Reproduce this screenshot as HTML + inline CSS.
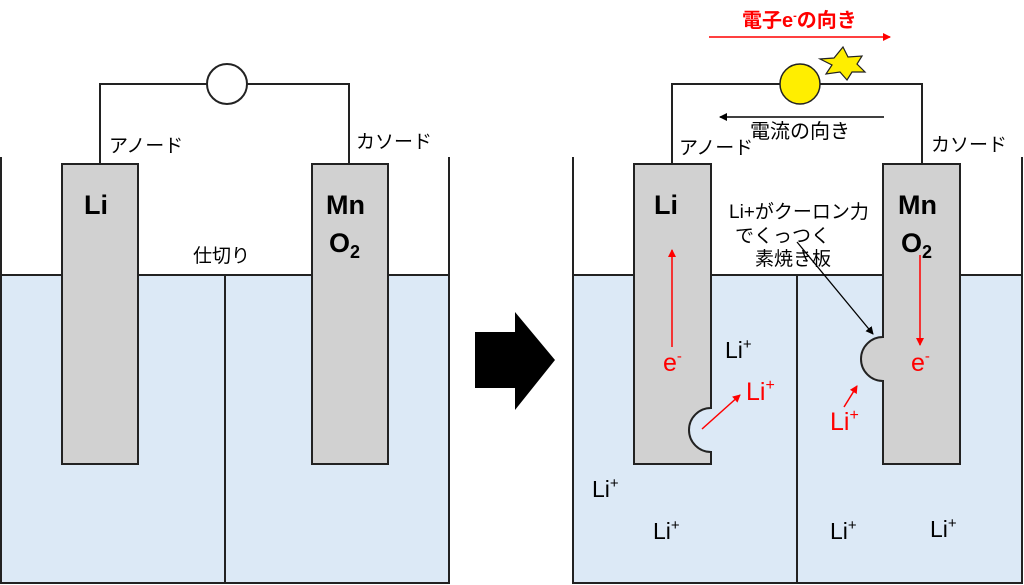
<!DOCTYPE html>
<html><head><meta charset="utf-8"><style>
html,body{margin:0;padding:0;background:#fff;}
svg{display:block;}
text{font-family:"Liberation Sans","Noto Sans CJK JP",sans-serif;}
</style></head><body>
<svg width="1024" height="585" viewBox="0 0 1024 585" xmlns="http://www.w3.org/2000/svg">
<defs>
<marker id="ar" markerWidth="8" markerHeight="8" refX="7" refY="4" orient="auto" markerUnits="userSpaceOnUse"><path d="M0,0 L8,4 L0,8 z" fill="red"/></marker>
<marker id="ab" markerWidth="8" markerHeight="8" refX="7" refY="4" orient="auto" markerUnits="userSpaceOnUse"><path d="M0,0 L8,4 L0,8 z" fill="#000"/></marker>
</defs>
<g stroke="#222" stroke-width="2">
<rect x="1" y="275" width="448" height="308" fill="#dce9f6"/>
<line x1="1" y1="157" x2="1" y2="583"/>
<line x1="449" y1="157" x2="449" y2="583"/>
<line x1="225" y1="275" x2="225" y2="583"/>
<polyline points="100,164 100,84 349,84 349,164" fill="none"/>
<circle cx="227" cy="84" r="20" fill="#fff"/>
<rect x="62" y="164" width="76" height="300" fill="#d1d1d1"/>
<rect x="312" y="164" width="76" height="300" fill="#d1d1d1"/>
<rect x="573" y="275" width="449" height="308" fill="#dce9f6"/>
<line x1="573" y1="157" x2="573" y2="583"/>
<line x1="1022" y1="157" x2="1022" y2="583"/>
<line x1="797" y1="275" x2="797" y2="583"/>
<polyline points="672,164 672,84 922,84 922,164" fill="none"/>
<path d="M634,164 H711 V408 A22,22 0 0 0 711,452 V464 H634 Z" fill="#d1d1d1"/>
<path d="M883,164 H960 V464 H883 V381 A22,22 0 0 1 883,337 Z" fill="#d1d1d1"/>
<circle cx="800" cy="84" r="20" fill="#ffee00" stroke-width="1.5"/>
</g>
<polygon points="843,47 848,57 862,56 857,64 865,72 852,72 847,80 840,72 826,74 832,65 820,59 834,58" fill="#ffee00" stroke="#222" stroke-width="1.2"/>
<path d="M475,332 H515 V312 L555,360 L515,410 V388 H475 Z" fill="#000"/>
<line x1="709" y1="37" x2="890" y2="37" stroke="red" stroke-width="1.5" marker-end="url(#ar)"/>
<line x1="884" y1="117" x2="720" y2="117" stroke="#000" stroke-width="1.5" marker-end="url(#ab)"/>
<line x1="672" y1="347" x2="672" y2="250" stroke="red" stroke-width="1.5" marker-end="url(#ar)"/>
<line x1="920" y1="255" x2="920" y2="345" stroke="red" stroke-width="1.5" marker-end="url(#ar)"/>
<line x1="702" y1="429" x2="740" y2="395" stroke="red" stroke-width="1.5" marker-end="url(#ar)"/>
<line x1="844" y1="407" x2="857" y2="386" stroke="red" stroke-width="1.5" marker-end="url(#ar)"/>
<line x1="797" y1="242" x2="873" y2="334" stroke="#000" stroke-width="1.3" marker-end="url(#ab)"/>
<g font-size="19" fill="#000">
<text x="109" y="152">アノード</text>
<text x="356" y="148">カソード</text>
<text x="193" y="262">仕切り</text>
<text x="679" y="154">アノード</text>
<text x="931" y="151">カソード</text>
<text x="750" y="138" font-size="20">電流の向き</text>
<text x="729" y="218">Li+がクーロン力</text>
<text x="735" y="242">でくっつく</text>
<text x="755" y="265">素焼き板</text>
</g>
<text x="742" y="27" font-size="20" font-weight="bold" fill="red">電子e<tspan font-size="11" dy="-8">-</tspan><tspan dy="8">の向き</tspan></text>
<g font-size="27" font-weight="bold" fill="#000">
<text x="84" y="214">Li</text>
<text x="326" y="214">Mn</text>
<text x="329" y="252">O<tspan font-size="18" dy="6">2</tspan></text>
<text x="654" y="214">Li</text>
<text x="898" y="214">Mn</text>
<text x="901" y="252">O<tspan font-size="18" dy="6">2</tspan></text>
</g>
<g font-size="25" fill="red">
<text x="663" y="371">e<tspan font-size="15" dy="-10">-</tspan></text>
<text x="911" y="371">e<tspan font-size="15" dy="-10">-</tspan></text>
<text x="746" y="400">Li<tspan font-size="16" dy="-10">+</tspan></text>
<text x="830" y="430">Li<tspan font-size="16" dy="-10">+</tspan></text>
</g>
<g font-size="23" fill="#000">
<text x="725" y="358">Li<tspan font-size="15" dy="-9">+</tspan></text>
<text x="592" y="497">Li<tspan font-size="15" dy="-9">+</tspan></text>
<text x="653" y="539">Li<tspan font-size="15" dy="-9">+</tspan></text>
<text x="830" y="539">Li<tspan font-size="15" dy="-9">+</tspan></text>
<text x="930" y="537">Li<tspan font-size="15" dy="-9">+</tspan></text>
</g>
</svg>
</body></html>
